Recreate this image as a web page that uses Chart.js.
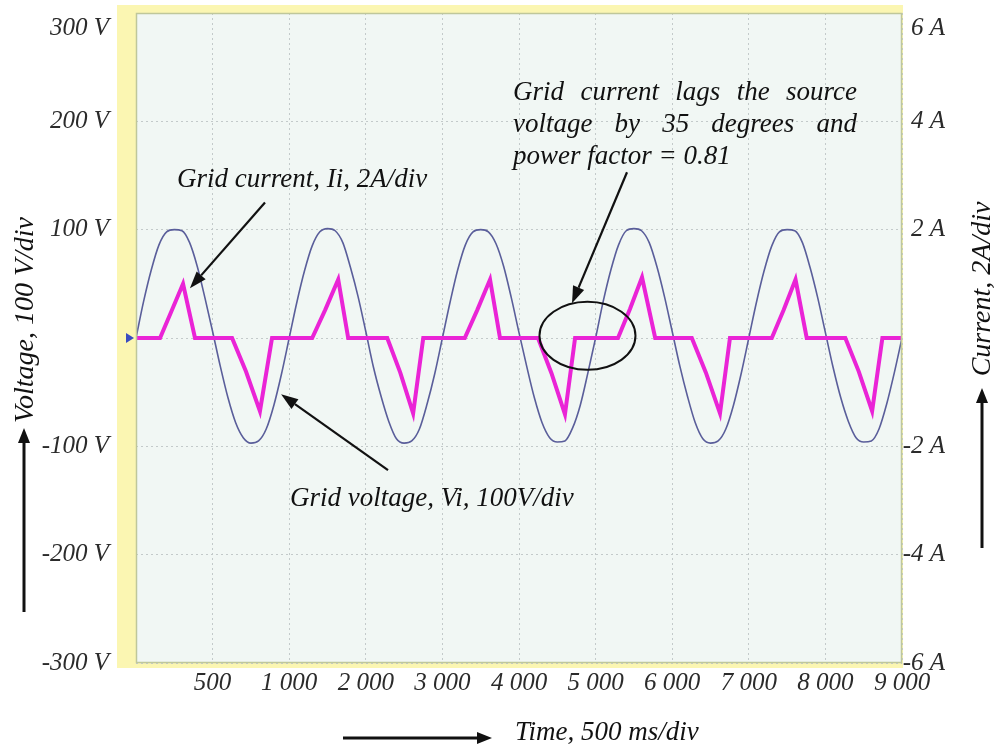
<!DOCTYPE html>
<html>
<head>
<meta charset="utf-8">
<title>Grid voltage and grid current</title>
<script src="https://cdn.jsdelivr.net/npm/chart.js@4.4.1/dist/chart.umd.min.js"></script>
<style>
  html, body { margin: 0; padding: 0; background: #fff; }
  canvas { display: block; }
</style>
</head>
<body>
<canvas id="chart" width="994" height="749"></canvas>
<script>
// voltage trace is sampled every 50 ms
const voltStep = 50;

// grid voltage Vi (V), 20 samples per cycle
const voltage = [
  0, 34, 63, 86, 98, 100, 99, 88, 66, 37, 6, -26, -55, -78, -92, -97, -95, -84, -62, -33,
  0, 33, 62, 85, 98, 101, 99, 88, 65, 38, 6, -27, -54, -77, -93, -97, -95, -84, -61, -33,
  0, 33, 63, 86, 98, 100, 98, 87, 66, 37, 5, -26, -55, -78, -92, -96, -95, -83, -62, -32,
  0, 34, 63, 86, 99, 101, 99, 88, 66, 38, 6, -26, -54, -78, -93, -97, -95, -84, -62, -33,
  0, 33, 62, 85, 98, 100, 99, 88, 65, 37, 5, -27, -55, -77, -92, -96, -95, -84, -61, -32,
  0
];

// grid current Ii (A), corner points of the trace
const currentTime = [
  0, 157, 232, 307, 385, 627, 718, 809, 888,
  1150, 1235, 1320, 1385, 1640, 1725, 1809, 1875,
  2146, 2228, 2311, 2376, 2624, 2712, 2800, 2866,
  3146, 3225, 3303, 3389, 3628, 3720, 3812, 3877,
  4150, 4228, 4305, 4378, 4630, 4718, 4805, 4872,
  5000
];
const currentAmps = [
  0, 0, 0.5, 1.0, 0, 0, -0.62, -1.35, 0,
  0, 0.52, 1.08, 0, 0, -0.64, -1.39, 0,
  0, 0.52, 1.08, 0, 0, -0.65, -1.41, 0,
  0, 0.54, 1.12, 0, 0, -0.64, -1.39, 0,
  0, 0.52, 1.08, 0, 0, -0.62, -1.35, 0,
  0
];

// tick labels as printed on the figure
const timeLabels = ['', '500', '1 000', '2 000', '3 000', '4 000', '5 000', '6 000', '7 000', '8 000', '9 000'];
const voltLabels = ['-300 V', '-200 V', '-100 V', '', '100 V', '200 V', '300 V'];
const ampLabels = ['-6 A', '-4 A', '-2 A', '', '2 A', '4 A', '6 A'];

const serif = '"Liberation Serif", "DejaVu Serif", serif';
const tickFont = { family: serif, size: 25, style: 'italic' };
const gridColor = '#c3caca';

const voltPoints = voltage.map((v, i) => ({ x: i * voltStep, y: v }));
const currentPoints = currentTime.map((t, i) => ({ x: t, y: currentAmps[i] }));

// top label sits a bit below the top edge, push it down one half line
function topLabel(label, isTop) {
  return isTop ? ['', label] : label;
}

function arrow(ctx, x1, y1, x2, y2, head, half) {
  const a = Math.atan2(y2 - y1, x2 - x1);
  const bx = x2 - head * Math.cos(a), by = y2 - head * Math.sin(a);
  ctx.beginPath();
  ctx.moveTo(x1, y1);
  ctx.lineTo(bx, by);
  ctx.stroke();
  ctx.beginPath();
  ctx.moveTo(x2, y2);
  ctx.lineTo(bx + half * Math.sin(a), by - half * Math.cos(a));
  ctx.lineTo(bx - half * Math.sin(a), by + half * Math.cos(a));
  ctx.closePath();
  ctx.fill();
}

function justified(ctx, lines, x, y, width, lineGap) {
  lines.forEach((line, k) => {
    const words = line.split(' ');
    const last = k === lines.length - 1;
    const total = words.reduce((s, w) => s + ctx.measureText(w).width, 0);
    const gap = last ? ctx.measureText(' ').width : (width - total) / (words.length - 1);
    let cx = x;
    words.forEach(w => {
      ctx.fillText(w, cx, y + k * lineGap);
      cx += ctx.measureText(w).width + gap;
    });
  });
}

const decor = {
  id: 'decor',
  beforeDraw(chart) {
    const { ctx, chartArea: a } = chart;
    ctx.save();
    // yellow scope frame
    ctx.fillStyle = '#fbf6b2';
    ctx.fillRect(117, 5, a.right + 1 - 117, a.bottom + 5 - 5);
    ctx.fillStyle = '#f1f7f4';
    ctx.fillRect(a.left, a.top, a.right - a.left, a.bottom - a.top);
    ctx.restore();
  },
  afterDatasetsDraw(chart) {
    const { ctx, chartArea: a, scales } = chart;
    const px = t => scales.x.getPixelForValue(t);
    const py = v => scales.yV.getPixelForValue(v);
    ctx.save();
    ctx.strokeStyle = '#bfc79a';
    ctx.lineWidth = 1.5;
    ctx.strokeRect(a.left + 0.5, a.top + 0.5, a.right - a.left - 1, a.bottom - a.top - 1);

    // channel marker
    ctx.fillStyle = '#3a4cc0';
    ctx.beginPath();
    ctx.moveTo(a.left - 10, py(0) - 5);
    ctx.lineTo(a.left - 2, py(0));
    ctx.lineTo(a.left - 10, py(0) + 5);
    ctx.closePath();
    ctx.fill();

    ctx.fillStyle = '#111';
    ctx.strokeStyle = '#111';
    ctx.textBaseline = 'alphabetic';
    ctx.font = 'italic 27px ' + serif;

    ctx.fillText('Grid current, Ii, 2A/div', px(268), py(139));
    ctx.fillText('Grid voltage, Vi, 100V/div', px(1005), py(-155));
    justified(ctx, ['Grid current lags the source', 'voltage by 35 degrees and', 'power factor = 0.81'],
      px(2461), py(220), px(4706) - px(2461), 32);

    ctx.lineWidth = 2.2;
    arrow(ctx, px(842), py(125), px(352), py(46), 17, 6);
    arrow(ctx, px(1645), py(-122), px(947), py(-52), 17, 6);
    arrow(ctx, px(3205), py(153), px(2846), py(32), 17, 6);

    ctx.lineWidth = 2;
    ctx.beginPath();
    ctx.ellipse(px(2947), py(2), 48, 34, 0, 0, Math.PI * 2);
    ctx.stroke();

    // axis titles with their arrows
    ctx.font = 'italic 28px ' + serif;
    ctx.textAlign = 'center';
    ctx.textBaseline = 'middle';
    ctx.save();
    ctx.translate(26, 320);
    ctx.rotate(-Math.PI / 2);
    ctx.fillText('Voltage, 100 V/div', 0, 0);
    ctx.restore();
    ctx.save();
    ctx.translate(983, 289);
    ctx.rotate(-Math.PI / 2);
    ctx.fillText('Current, 2A/div', 0, 0);
    ctx.restore();
    ctx.font = 'italic 27px ' + serif;
    ctx.textAlign = 'left';
    ctx.fillText('Time, 500 ms/div', 515, 733);

    ctx.lineWidth = 3;
    arrow(ctx, 24, 612, 24, 428, 15, 6);
    arrow(ctx, 982, 548, 982, 388, 15, 6);
    arrow(ctx, 343, 738, 492, 738, 15, 6);
    ctx.restore();
  }
};

new Chart(document.getElementById('chart'), {
  type: 'line',
  data: {
    datasets: [
      {
        label: 'Grid current, Ii',
        data: currentPoints,
        yAxisID: 'yI',
        borderColor: '#ea24d6',
        borderWidth: 4,
        pointRadius: 0,
        tension: 0
      },
      {
        label: 'Grid voltage, Vi',
        data: voltPoints,
        yAxisID: 'yV',
        borderColor: '#5a5e9a',
        borderWidth: 1.6,
        pointRadius: 0,
        cubicInterpolationMode: 'monotone'
      }
    ]
  },
  options: {
    responsive: false,
    animation: false,
    layout: { padding: { top: 13, left: 0, right: 49, bottom: 0 } },
    plugins: { legend: { display: false }, tooltip: { enabled: false } },
    scales: {
      x: {
        type: 'linear',
        min: 0,
        max: 5000,
        grid: { color: gridColor, drawTicks: false },
        border: { display: false, dash: [2, 3] },
        ticks: {
          stepSize: 500,
          autoSkip: false,
          maxRotation: 0,
          padding: 5,
          color: '#2b2b2b',
          font: tickFont,
          callback: v => timeLabels[Math.round(v / 500)]
        },
        afterFit: s => { s.height = 86; s.paddingLeft = 0; s.paddingRight = 0; }
      },
      yV: {
        position: 'left',
        min: -300,
        max: 300,
        grid: { color: gridColor, drawTicks: false },
        border: { display: false, dash: [2, 3] },
        ticks: {
          stepSize: 100,
          padding: 27,
          color: '#2b2b2b',
          font: tickFont,
          callback: v => topLabel(voltLabels[Math.round((v + 300) / 100)], v === 300)
        },
        afterFit: s => { s.width = 136; s.paddingTop = 0; s.paddingBottom = 0; }
      },
      yI: {
        position: 'right',
        min: -6,
        max: 6,
        grid: { display: false, drawTicks: false },
        border: { display: false },
        ticks: {
          stepSize: 2,
          padding: 4,
          crossAlign: 'far',
          color: '#2b2b2b',
          font: tickFont,
          callback: v => topLabel(ampLabels[Math.round((v + 6) / 2)], v === 6)
        },
        afterFit: s => { s.width = 43; s.paddingTop = 0; s.paddingBottom = 0; }
      }
    }
  },
  plugins: [decor]
});
</script>
</body>
</html>
